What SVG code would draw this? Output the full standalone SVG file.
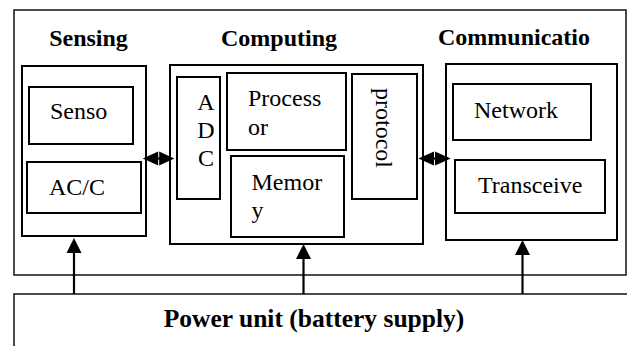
<svg xmlns="http://www.w3.org/2000/svg" width="627" height="346" viewBox="0 0 627 346">
<style>
.box{fill:#fff;stroke:#000;stroke-width:2}
.outer{fill:#fff;stroke:#111;stroke-width:1.5}
.t{font-family:'Liberation Serif','Times New Roman',serif;font-size:24px;fill:#000}
.b{font-weight:bold}
.ln{stroke:#000;stroke-width:2.2;fill:none}
.ah{fill:#000}
</style>
<g id="frame"><rect class="outer" x="14" y="10" width="612" height="265"/></g>
<g id="power">
<rect class="outer" x="14" y="294" width="630" height="70"/>
<text class="t b" x="314" y="327" text-anchor="middle" style="font-size:25.5px">Power unit (battery supply)</text>
</g>
<g id="sensing">
<text class="t b" x="88.5" y="45.5" text-anchor="middle">Sensing</text>
<rect class="box" x="22" y="66" width="124" height="170"/>
</g>
<g id="sensor"><rect class="box" x="29" y="87" width="104" height="57"/><text class="t" x="50" y="119">Senso</text></g>
<g id="acc"><rect class="box" x="27" y="162" width="114" height="51"/><text class="t" x="49" y="195">AC/C</text></g>
<g id="computing">
<text class="t b" x="279" y="45.5" text-anchor="middle">Computing</text>
<rect class="box" x="170" y="65" width="253" height="179"/>
</g>
<g id="adc"><rect class="box" x="177" y="77" width="43" height="122"/>
<text class="t" x="206" y="109.5" text-anchor="middle">A</text>
<text class="t" x="206" y="137.5" text-anchor="middle">D</text>
<text class="t" x="206" y="165.5" text-anchor="middle">C</text></g>
<g id="processor"><rect class="box" x="227" y="73" width="119" height="77"/>
<text class="t" x="248" y="106">Process</text><text class="t" x="248" y="134.5">or</text></g>
<g id="memory"><rect class="box" x="231" y="156" width="113" height="81"/>
<text class="t" x="251.5" y="189.5">Memor</text><text class="t" x="251.5" y="217.5">y</text></g>
<g id="protocol"><rect class="box" x="352" y="74" width="65" height="125"/>
<text class="t" transform="translate(376,88) rotate(90)" x="0" y="0">protocol</text></g>
<g id="communication">
<text class="t b" x="514" y="44.5" text-anchor="middle">Communicatio</text>
<rect class="box" x="446" y="64" width="171" height="176"/>
</g>
<g id="network"><rect class="box" x="453" y="84" width="138" height="56"/><text class="t" x="474" y="118">Network</text></g>
<g id="transceiver"><rect class="box" x="455" y="160" width="150" height="53"/><text class="t" x="478" y="193">Transceive</text></g>
<g id="connectors">
<line class="ln" x1="150" y1="158.5" x2="167" y2="158.5"/>
<path class="ah" d="M142.7 158.5 L158.2 151.5 L158.2 165.5 Z"/>
<path class="ah" d="M174.3 158.5 L159.2 151.5 L159.2 165.5 Z"/>
<line class="ln" x1="426" y1="158.5" x2="443" y2="158.5"/>
<path class="ah" d="M418.3 158.5 L434 151.5 L434 165.5 Z"/>
<path class="ah" d="M450.7 158.5 L435 151.5 L435 165.5 Z"/>
<line class="ln" x1="74" y1="294" x2="74" y2="250"/>
<path class="ah" d="M74 238 L81.5 253 L66.5 253 Z"/>
<line class="ln" x1="303.5" y1="294" x2="303.5" y2="256"/>
<path class="ah" d="M303.5 244 L311 259 L296 259 Z"/>
<line class="ln" x1="522.5" y1="294" x2="522.5" y2="252"/>
<path class="ah" d="M522.5 240 L530 255 L515 255 Z"/>
</g>
</svg>
